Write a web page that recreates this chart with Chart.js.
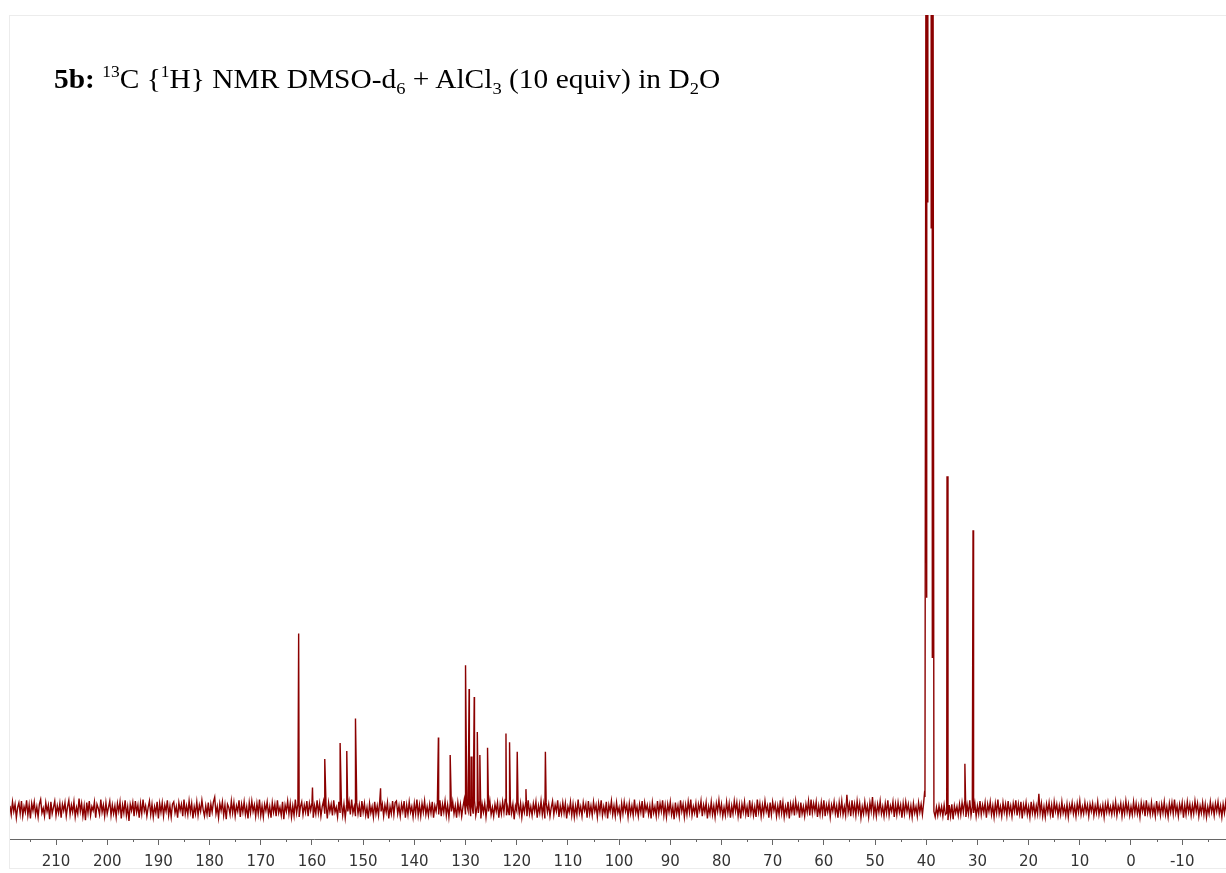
<!DOCTYPE html>
<html>
<head>
<meta charset="utf-8">
<title>5b 13C NMR</title>
<script src="https://cdn.jsdelivr.net/npm/chart.js@4/dist/chart.umd.min.js"></script>
<style>
    html, body { margin: 0; padding: 0; background: #fff; }
    #wrap { position: relative; width: 1226px; height: 873px; overflow: hidden; }
    #spectrum { position: absolute; left: 0; top: 0; }
    #title {
        position: absolute;
        left: 54px;
        top: 64px;
        font-family: "Liberation Serif", "Times New Roman", serif;
        font-size: 27px;
        color: #000;
        white-space: nowrap;
        line-height: 30px;
        transform: scaleX(1.09);
        transform-origin: 0 0;
    }
    #title .up { font-size: 16px; position: relative; top: -11px; }
    #title .dn { font-size: 17px; position: relative; top: 6px; }
</style>
</head>
<body>
<div id="wrap">
    <canvas id="spectrum" width="1226" height="873"></canvas>
    <div id="title"><b>5b:</b> <span class="up">13</span>C {<span class="up">1</span>H} NMR DMSO-d<span class="dn">6</span> + AlCl<span class="dn">3</span> (10 equiv) in D<span class="dn">2</span>O</div>
</div>

<script>
// Axis range (ppm), high field on the right
const ppmMin = -18.56;
const ppmMax = 218.99;
const tickStep = 10;
const minorStep = 5;

// Baseline noise in tenths of an intensity unit, one value every 0.25 ppm from 219 ppm
const noiseStart = 219;
const noiseStep = 0.25;
const noise = [
    4,-7,9,-3,6,-11,2,8,-6,10,-9,3,-4,11,-8,5,-12,7,-2,9,
    -7,3,-10,6,12,-5,1,-9,8,-3,5,-13,9,-6,2,10,-8,4,-5,7,
    -11,6,-2,8,-9,3,11,-7,5,-4,9,-10,2,-6,13,-3,7,-9,4,-14,
    8,-5,10,-8,3,-2,9,-11,6,1,-7,12,-4,5,-9,8,-6,2,10,-8,
    5,-6,4,-10,7,-3,9,-12,5,-5,11,-8,3,-15,6,-2,8,-9,10,-4,
    5,-11,7,-6,12,-3,4,-9,2,10,-7,6,-10,3,-5,9,-12,7,-4,8,
    -9,5,-3,11,-8,4,-10,6,9,-5,3,-11,8,-2,6,-9,12,-6,4,-7,
    10,-4,7,-12,3,-6,9,-8,5,-3,11,-1,-9,4,-7,8,-10,6,-4,9,
    15,-6,3,-11,7,-2,9,-8,5,-13,6,2,-7,10,-5,8,-9,4,-3,11,
    -10,6,-4,9,-7,3,-12,8,-5,10,-3,5,-9,7,-6,12,-8,4,-10,6,
    -2,9,-7,3,-11,8,-4,6,-9,11,-5,2,-8,9,-13,5,-3,10,-6,7,
    -10,4,-8,12,-5,6,-10,3,9,-7,5,-4,10,-9,7,-2,8,-11,4,-6,
    11,-5,7,-9,3,10,-6,5,-12,8,-3,6,-8,11,-4,2,-10,9,-5,7,
    -8,6,-11,4,-3,9,-7,12,-5,3,-9,8,-6,5,-10,10,-4,7,-8,2,
    -12,7,-5,3,-10,9,-6,4,-8,11,-3,6,-9,5,-4,8,-12,3,-6,10,
    -7,8,10,-6,4,-9,6,-3,10,-11,5,-7,9,-4,3,-10,7,-6,12,-8,
    5,-9,7,-4,10,-7,3,-8,6,-5,9,-11,4,-3,8,-7,11,-9,6,-4,
    10,-8,5,-10,7,-3,9,-6,4,-11,8,-5,6,-9,3,12,-7,5,-2,8,
    -9,4,-6,11,-8,3,-5,9,-12,6,-4,7,-10,5,-3,10,-7,2,-9,6,
    -3,8,-11,5,-6,9,-4,12,-8,3,-7,10,-5,6,-13,4,-2,9,-6,7,
    -10,5,-4,8,-9,11,-6,3,-8,7,-3,9,-11,4,-5,10,-7,6,-12,8,
    -4,6,-9,2,10,-7,5,-3,11,-10,4,-6,8,-5,7,-12,3,-4,9,-8,
    6,-10,4,-7,12,-5,3,-9,8,-2,6,-11,10,-6,4,-8,9,-3,5,-10,
    7,-4,11,-8,3,-6,9,-12,5,-3,10,-7,4,-9,8,-5,2,-11,7,-6,
    9,-3,5,-10,7,-6,4,-8,12,-5,3,-9,6,-4,10,-11,8,-2,5,-7,
    4,-12,8,-5,3,-9,10,-6,7,-3,11,-8,5,-10,6,-4,9,-7,3,-13,
    8,-6,4,-9,11,-3,6,-10,5,-7,9,-4,12,-8,3,-5,7,-11,6,-2,
    10,-9,5,-4,8,-12,3,-6,9,-7,4,-10,7,-3,11,-5,6,-9,2,-8,
    9,-5,7,-11,4,-6,10,-3,8,-9,5,-12,6,-4,9,-7,3,-10,11,-5,
    6,-8,3,-10,12,-4,7,-9,5,-6,10,-3,4,-11,8,-7,9,-2,6,-9,
    4,-7,11,-5,8,-10,3,-6,9,-12,6,-4,7,-8,10,-3,5,-11,8,-6,
    3,-9,6,-4,10,-8,12,-5,7,-3,9,-10,4,-7,8,-6,11,-9,5,-4,
    7,-10,5,-3,9,-6,4,-11,8,-5,10,-7,3,-8,18,-4,6,-9,11,-5,
    6,-8,10,-4,7,-11,3,-6,9,-5,4,-10,8,-3,15,-7,5,-9,6,-4,
    10,-6,3,-9,7,-5,11,-8,4,-3,9,-10,6,-7,8,-4,5,-11,7,-6,
    9,-3,6,-8,4,-10,7,-5,3,-9,8,-4,6,-7,8,15,0,0,0,0,
    0,0,-3,-10,2,-8,4,-6,3,-9,5,-7,-5,-14,5,-9,6,-13,4,-5,
    3,-8,6,-7,8,-4,9,-10,5,-6,11,-8,3,-5,7,-9,4,-6,10,-7,
    5,-4,8,-11,6,-3,9,-7,4,-10,7,-5,12,-6,3,-9,8,-4,6,-8,
    10,-5,4,-9,7,-3,11,-8,6,-6,9,-12,5,-4,8,-7,3,-10,9,-5,
    6,-8,4,-6,19,-5,7,-9,3,-10,6,-4,8,-7,5,-11,9,-3,6,-8,
    4,-7,9,-5,3,-8,6,-10,5,-3,8,-6,4,-9,7,-4,10,-7,3,-6,
    8,-4,5,-9,6,-3,7,-8,4,-5,9,-7,3,-6,5,-10,6,-4,8,-5,
    3,-7,6,-5,9,-8,4,-3,7,-9,5,-6,10,-4,6,-8,3,-7,9,-5,
    7,-6,4,-10,8,-3,6,-9,11,-5,4,-7,8,-6,3,-9,10,-4,5,-8,
    6,-5,9,-7,3,-10,7,-4,8,-6,12,-5,4,-9,6,-3,8,-11,5,-7,
    9,-4,6,-8,5,-6,10,-3,7,-9,4,-5,8,-7,6,-10,3,-6,9,-4,
    5,-8,7,-3,9,-6,4,-10,6,-5,8,-7,3,-9,10,-4,6,-8,5,-6
];

// Sample signals (ppm, intensity)
const peakShifts = [162.6, 159.9, 157.5, 154.5, 153.2, 151.5, 146.6, 135.3, 133.0, 130.0,
    129.3, 128.9, 128.3, 127.7, 127.2, 125.7, 122.1, 121.4, 119.9, 118.2, 114.4,
    40.3, 35.94, 32.45, 30.86];
const peakHeights = [22.1, 2.7, 6.3, 8.3, 7.3, 11.4, 2.6, 9.0, 6.8, 18.1,
    15.1, 6.6, 14.1, 9.7, 6.8, 7.7, 9.5, 8.4, 7.2, 2.5, 7.2,
    2.3, 41.9, 5.7, 35.1];

// DMSO-d6 septet (1:3:6:7:6:3:1): lines run off scale, the minima between them are visible
const solventLines = [40.02, 39.80, 39.58, 39.36, 39.14, 38.92, 38.70];
const solventLineHeights = [130, 390, 780, 910, 780, 390, 130];
const solventDips = [39.91, 39.69, 39.47, 39.25, 39.03, 38.81];
const solventDipHeights = [26.6, 76.4, 150, 150, 73.2, 19.1];

// merge everything into one trace, ordered by shift
const solventLo = Math.min(...solventLines) - 0.05;
const solventHi = Math.max(...solventLines) + 0.05;
const trace = [];
noise.forEach((v, i) => {
    const ppm = noiseStart - i * noiseStep;
    if (ppm > solventLo && ppm < solventHi) return;
    trace.push({ x: ppm, y: v / 10 });
});
peakShifts.forEach((p, i) => trace.push({ x: p, y: peakHeights[i] }));
solventLines.forEach((p, i) => trace.push({ x: p, y: solventLineHeights[i] }));
solventDips.forEach((p, i) => trace.push({ x: p, y: solventDipHeights[i] }));
trace.sort((a, b) => b.x - a.x);

// light frame around the plot plus the short 5 ppm ticks
const extras = {
    id: 'extras',
    beforeDraw(chart) {
        const ctx = chart.ctx;
        ctx.save();
        ctx.strokeStyle = '#ececec';
        ctx.lineWidth = 1;
        ctx.strokeRect(9.5, 15.5, 1240, 853);
        ctx.restore();
    },
    afterDraw(chart) {
        const ctx = chart.ctx;
        const xs = chart.scales.x;
        const y0 = chart.chartArea.bottom;
        ctx.save();
        ctx.strokeStyle = '#666';
        ctx.lineWidth = 1;
        ctx.beginPath();
        for (let v = Math.ceil(ppmMin / minorStep) * minorStep; v <= ppmMax; v += minorStep) {
            if (v % tickStep === 0) continue;
            const px = Math.round(xs.getPixelForValue(v)) + 0.5;
            ctx.moveTo(px, y0);
            ctx.lineTo(px, y0 + 3);
        }
        ctx.stroke();
        ctx.restore();
    }
};

new Chart(document.getElementById('spectrum'), {
    type: 'line',
    data: {
        datasets: [{
            data: trace,
            borderColor: '#8b0000',
            borderWidth: 1.4,
            pointRadius: 0,
            tension: 0,
            fill: false
        }]
    },
    options: {
        responsive: false,
        animation: false,
        devicePixelRatio: 1,
        layout: { padding: { left: 10, top: 15, right: 0, bottom: 0 } },
        plugins: {
            legend: { display: false },
            tooltip: { enabled: false }
        },
        scales: {
            x: {
                type: 'linear',
                reverse: true,
                min: ppmMin,
                max: ppmMax,
                afterFit: (scale) => { scale.height = 34; },
                border: { display: true, color: '#666', width: 1 },
                grid: { drawOnChartArea: false, drawTicks: true, tickLength: 6, tickColor: '#666' },
                ticks: {
                    stepSize: tickStep,
                    includeBounds: false,
                    autoSkip: false,
                    maxRotation: 0,
                    padding: 8,
                    color: '#333',
                    font: { family: 'DejaVu Sans', size: 15 },
                    callback: (value) => String(value)
                }
            },
            y: {
                display: false,
                min: -3.78,
                max: 100
            }
        }
    },
    plugins: [extras]
});
</script>
</body>
</html>
